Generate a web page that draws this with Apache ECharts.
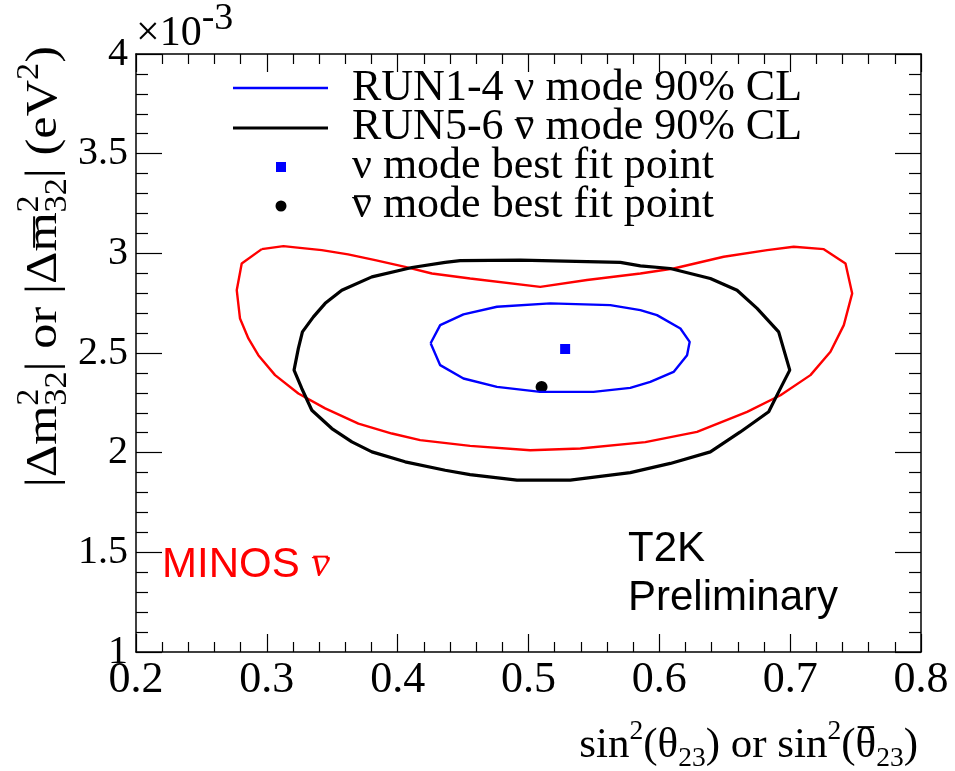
<!DOCTYPE html>
<html>
<head>
<meta charset="utf-8">
<script src="https://cdn.jsdelivr.net/npm/echarts@6/dist/echarts.min.js"></script>
<style>
  html, body { margin: 0; padding: 0; background: #ffffff; }
  #chart { width: 955px; height: 771px; }
</style>
</head>
<body>
<div id="chart"></div>
<script>
// Axis tick labels
const xTickLabels = ['0.2', '0.3', '0.4', '0.5', '0.6', '0.7', '0.8'];
const yTickLabels = ['1', '1.5', '2', '2.5', '3', '3.5', '4'];

// MINOS antineutrino 90% CL contour: sin^2(theta23), |dm^2_32| in 1e-3 eV^2
const minosX = [0.2961, 0.3127, 0.3216, 0.3420, 0.3621, 0.3828, 0.4057, 0.4262, 0.4554, 0.5090,
                0.5447, 0.5855, 0.6109, 0.6492, 0.6824, 0.7027, 0.7257, 0.7423, 0.7474, 0.7410,
                0.7308, 0.7155, 0.6926, 0.6671, 0.6288, 0.5893, 0.5396, 0.5013, 0.4554, 0.4172,
                0.3956, 0.3700, 0.3446, 0.3241, 0.3063, 0.2935, 0.2859, 0.2795, 0.2770, 0.2808];
const minosY = [3.021, 3.036, 3.030, 3.016, 2.995, 2.966, 2.932, 2.899, 2.874, 2.832,
                2.866, 2.899, 2.924, 2.983, 3.016, 3.033, 3.021, 2.949, 2.799, 2.640,
                2.506, 2.389, 2.288, 2.205, 2.104, 2.053, 2.021, 2.012, 2.034, 2.063,
                2.096, 2.146, 2.222, 2.297, 2.389, 2.489, 2.573, 2.673, 2.815, 2.949];

// RUN1-4 neutrino mode 90% CL contour
const nuModeX = [0.4252, 0.4325, 0.4503, 0.4759, 0.5166, 0.5625, 0.5855, 0.5982, 0.6161, 0.6232,
                 0.6212, 0.6109, 0.5931, 0.5778, 0.5497, 0.5090, 0.4759, 0.4503, 0.4325];
const nuModeY = [2.549, 2.640, 2.694, 2.732, 2.749, 2.740, 2.715, 2.690, 2.623, 2.556,
                 2.489, 2.405, 2.355, 2.325, 2.305, 2.305, 2.330, 2.372, 2.439];

// RUN5-6 antineutrino mode 90% CL contour
const nubarModeX = [0.4363, 0.4478, 0.4937, 0.5702, 0.5855, 0.6084, 0.6390, 0.6594, 0.6747, 0.6912,
                    0.6997, 0.6912, 0.6836, 0.6619, 0.6390, 0.6084, 0.5778, 0.5319, 0.4912, 0.4553,
                    0.4363, 0.4057, 0.3803, 0.3650, 0.3497, 0.3344, 0.3267, 0.3208, 0.3241, 0.3272,
                    0.3356, 0.3446, 0.3573, 0.3803, 0.4109];
const nubarModeY = [2.955, 2.963, 2.966, 2.955, 2.937, 2.924, 2.874, 2.815, 2.724, 2.606,
                    2.414, 2.305, 2.205, 2.104, 2.004, 1.946, 1.900, 1.862, 1.862, 1.890,
                    1.912, 1.954, 2.004, 2.054, 2.121, 2.213, 2.322, 2.414, 2.523, 2.606,
                    2.681, 2.749, 2.815, 2.882, 2.929];

// Best fit points
const nuBestX = [0.528];
const nuBestY = [2.52];
const nubarBestX = [0.510];
const nubarBestY = [2.33];

const SERIF = '"Liberation Serif", "Times New Roman", serif';
const SANS = '"Liberation Sans", Arial, sans-serif';

function closedPath(xs, ys) {
  const pts = xs.map((x, i) => [x, ys[i]]);
  pts.push([xs[0], ys[0]]);
  return pts;
}

// Text measuring for formula layout (super/subscripts and overbars)
const mctx = document.createElement('canvas').getContext('2d');
function textWidth(text, font) { mctx.font = font; return mctx.measureText(text).width; }

function formula(tokens, o) {
  const F = o.size, fam = o.family || SERIF, col = o.color || '#000';
  const s = F * (o.script || 0.62);
  const supDy = o.supDy != null ? o.supDy : -0.32 * F;
  const subDy = o.subDy != null ? o.subDy : 0.30 * F;
  const els = [];
  let cx = 0;
  const put = (text, font, dy) => els.push({
    type: 'text', x: cx, y: dy, silent: true,
    style: { text: text, font: font, fill: col, align: 'left', verticalAlign: 'middle' }
  });
  tokens.forEach(tk => {
    if (tk.t !== undefined) {
      const size = tk.size || F;
      const font = (tk.italic ? 'italic ' : '') + size + 'px ' + (tk.fam || fam);
      const w = textWidth(tk.t, font);
      put(tk.t, font, tk.dy || 0);
      if (tk.bar !== undefined) {
        els.push({
          type: 'line', silent: true,
          shape: { x1: cx + w * 0.1, y1: tk.bar * F, x2: cx + w * 0.9, y2: tk.bar * F },
          style: { stroke: col, lineWidth: Math.max(1.5, F * 0.045) }
        });
      }
      cx += w;
    } else {
      const font = s + 'px ' + fam;
      const wu = tk.sup ? textWidth(tk.sup, font) : 0;
      const wd = tk.sub ? textWidth(tk.sub, font) : 0;
      if (tk.sup) put(tk.sup, font, supDy);
      if (tk.sub) put(tk.sub, font, subDy);
      cx += Math.max(wu, wd);
    }
  });
  const shift = o.align === 'right' ? -cx : 0;
  els.forEach(e => {
    if (e.type === 'line') { e.shape.x1 += shift; e.shape.x2 += shift; }
    else { e.x += shift; }
  });
  return {
    type: 'group', x: o.x, y: o.y, rotation: o.rotation || 0,
    scaleX: o.scaleX || 1, scaleY: o.scaleY || 1, children: els
  };
}

const chart = echarts.init(document.getElementById('chart'), null, { renderer: 'canvas' });

const axisLineStyle = { color: '#000', width: 1.5 };
const tickStyle = { color: '#000', width: 1.2 };

function xAxisCfg(pos, showLabel) {
  return {
    type: 'value', position: pos, min: 0.2, max: 0.8, interval: 0.1,
    axisLine: { show: true, onZero: false, lineStyle: axisLineStyle },
    axisTick: { show: true, inside: true, length: 18, lineStyle: tickStyle },
    minorTick: { show: true, splitNumber: 5, length: 10, lineStyle: tickStyle },
    splitLine: { show: false }, minorSplitLine: { show: false },
    axisLabel: {
      show: showLabel, margin: 6, color: '#000', fontFamily: SERIF, fontSize: 44,
      formatter: v => xTickLabels[Math.round((v - 0.2) / 0.1)]
    }
  };
}
function yAxisCfg(pos, showLabel) {
  return {
    type: 'value', position: pos, min: 1, max: 4, interval: 0.5,
    axisLine: { show: true, onZero: false, lineStyle: axisLineStyle },
    axisTick: { show: true, inside: true, length: 26, lineStyle: tickStyle },
    minorTick: { show: true, splitNumber: 5, length: 12, lineStyle: tickStyle },
    splitLine: { show: false }, minorSplitLine: { show: false },
    axisLabel: {
      show: showLabel, margin: 8, color: '#000', fontFamily: SERIF, fontSize: 40,
      formatter: v => yTickLabels[Math.round((v - 1) / 0.5)]
    }
  };
}

const graphics = [
  // exponent of the y axis
  formula([{ t: '\u00d710' }, { t: '-3', size: 38, dy: -15 }],
          { size: 42, x: 136, y: 34 }),
  // x axis title
  formula([{ t: 'sin' }, { sup: '2' }, { t: '(\u03b8' }, { sub: '23' }, { t: ') or sin' }, { sup: '2' },
           { t: '(' }, { t: '\u03b8', bar: -0.44 }, { sub: '23' }, { t: ')' }],
          { size: 43, script: 0.64, x: 918, y: 746, align: 'right' }),
  // y axis title
  formula([{ t: '|\u0394m' }, { sup: '2', sub: '32' }, { t: '| or |\u0394' }, { t: 'm', bar: -0.22 },
           { sup: '2', sub: '32' }, { t: '| (eV' }, { sup: '2' }, { t: ')' }],
          { size: 45, script: 0.68, x: 44, y: 46, align: 'right', rotation: Math.PI / 2, scaleX: 1.12 }),
  // legend
  { type: 'line', silent: true, shape: { x1: 233, y1: 88, x2: 328, y2: 88 }, style: { stroke: '#0000ff', lineWidth: 2.4 } },
  { type: 'line', silent: true, shape: { x1: 233, y1: 128, x2: 328, y2: 128 }, style: { stroke: '#000000', lineWidth: 2.8 } },
  { type: 'rect', silent: true, shape: { x: 276, y: 162, width: 10, height: 10 }, style: { fill: '#0000ff' } },
  { type: 'circle', silent: true, shape: { cx: 281, cy: 206, r: 5.5 }, style: { fill: '#000000' } },
  formula([{ t: 'RUN1-4 \u03bd mode 90% CL' }], { size: 44, x: 352, y: 88 }),
  formula([{ t: 'RUN5-6 ' }, { t: '\u03bd', bar: -0.2 }, { t: ' mode 90% CL' }], { size: 44, x: 352, y: 127 }),
  formula([{ t: '\u03bd mode best fit point' }], { size: 44, x: 352, y: 166 }),
  formula([{ t: '\u03bd', bar: -0.2 }, { t: ' mode best fit point' }], { size: 44, x: 352, y: 205 }),
  // annotations
  formula([{ t: 'MINOS ' }, { t: '\u03bd', italic: true, fam: SERIF, bar: -0.2 }],
          { size: 42, family: SANS, color: '#ff0000', x: 162, y: 565 }),
  { type: 'text', silent: true, x: 628, y: 549,
    style: { text: 'T2K', font: '42px ' + SANS, fill: '#000', verticalAlign: 'middle' } },
  { type: 'text', silent: true, x: 628, y: 598,
    style: { text: 'Preliminary', font: '42px ' + SANS, fill: '#000', verticalAlign: 'middle' } }
];

const option = {
  animation: false,
  backgroundColor: '#ffffff',
  grid: { left: 136, right: 34, top: 54, bottom: 119, containLabel: false },
  xAxis: [xAxisCfg('bottom', true), xAxisCfg('top', false)],
  yAxis: [yAxisCfg('left', true), yAxisCfg('right', false)],
  series: [
    {
      name: 'MINOS', type: 'line', data: closedPath(minosX, minosY),
      showSymbol: false, symbol: 'none', smooth: false, silent: true,
      lineStyle: { color: '#ff0000', width: 2.4 }
    },
    {
      name: 'RUN5-6 nubar mode 90% CL', type: 'line', data: closedPath(nubarModeX, nubarModeY),
      showSymbol: false, symbol: 'none', smooth: false, silent: true,
      lineStyle: { color: '#000000', width: 3.2 }
    },
    {
      name: 'RUN1-4 nu mode 90% CL', type: 'line', data: closedPath(nuModeX, nuModeY),
      showSymbol: false, symbol: 'none', smooth: false, silent: true,
      lineStyle: { color: '#0000ff', width: 2.4 }
    },
    {
      name: 'nu mode best fit point', type: 'scatter', symbol: 'rect', symbolSize: 10, silent: true,
      itemStyle: { color: '#0000ff', opacity: 1 },
      data: nuBestX.map((x, i) => [x, nuBestY[i]])
    },
    {
      name: 'nubar mode best fit point', type: 'scatter', symbol: 'circle', symbolSize: 12, silent: true,
      itemStyle: { color: '#000000', opacity: 1 },
      data: nubarBestX.map((x, i) => [x, nubarBestY[i]])
    }
  ],
  graphic: { elements: graphics }
};

chart.setOption(option);
</script>
</body>
</html>
